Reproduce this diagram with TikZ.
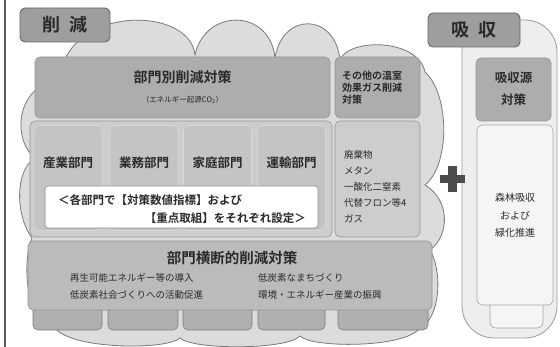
\documentclass[tikz,border=0pt]{standalone}
\usepackage{fontspec}
\setmainfont{Noto Sans CJK JP}[BoldFont={Noto Sans CJK JP Bold}]
\definecolor{cloudc}{HTML}{DCDCDC}
\definecolor{edgec}{HTML}{7A7A7A}
\definecolor{headc}{HTML}{ADADAD}
\definecolor{panelc}{HTML}{CDCDCD}
\definecolor{secc}{HTML}{C4C4C4}
\definecolor{botc}{HTML}{BBBBBB}
\definecolor{tabc}{HTML}{B0B0B0}
\definecolor{lblc}{HTML}{9E9E9E}
\definecolor{txtc}{HTML}{2A2A2A}
\definecolor{capc}{HTML}{EEEEEE}
\tikzset{
  px/.style={x=1pt,y=-1pt},
  cloudst/.style={fill=cloudc,draw=edgec,line width=0.8pt},
  boxst/.style={draw=edgec!80,line width=0.6pt,rounded corners=5pt,inner sep=0pt,outer sep=0pt},
  lblst/.style={boxst,fill=lblc,draw=black!60,line width=0.9pt,text=txtc,font=\bfseries\fontsize{18}{20}\selectfont},
  hd/.style={text=txtc,font=\bfseries\fontsize{14}{16}\selectfont,inner sep=0pt},
  sec/.style={text=txtc,font=\bfseries\fontsize{12.5}{14}\selectfont,inner sep=0pt},
  sm/.style={text=txtc,font=\fontsize{9.5}{11}\selectfont,inner sep=0pt},
}
\begin{document}
\begin{tikzpicture}[px]
\useasboundingbox (0,0) rectangle (560,347);
\fill[white] (0,0) rectangle (560,347);
\draw[black!65,line width=2pt] (5,0) -- (5,347);
% cloud
\draw[cloudst] (60,80) .. controls (65,5) and (190,5) .. (195,55)
 .. controls (205,8) and (270,8) .. (275,58)
 .. controls (282,12) and (335,12) .. (340,60)
 .. controls (348,38) and (418,38) .. (425,72)
 .. controls (450,95) and (450,165) .. (425,185)
 .. controls (450,200) and (450,235) .. (430,250)
 .. controls (442,270) and (442,318) .. (418,330)
 .. controls (400,348) and (312,348) .. (300,336)
 .. controls (288,350) and (192,350) .. (180,338)
 .. controls (168,350) and (72,350) .. (55,328)
 .. controls (25,325) and (22,260) .. (32,238)
 .. controls (15,215) and (15,170) .. (35,158)
 .. controls (12,140) and (15,85) .. (60,80) -- cycle;
% absorption capsule
\draw[fill=capc,draw=black!40,line width=0.8pt,rounded corners=32pt] (462,20) rectangle (557,338);
% top boxes
\node[boxst,fill=headc,minimum width=295pt,minimum height=61pt] (top) at (182.5,87.5) {};
\node[boxst,fill=headc,minimum width=85pt,minimum height=61pt] (other) at (377.5,87.5) {};
\node[hd] (topt) at (182.5,77) {部門別削減対策};
\node[text=txtc,font=\fontsize{7.5}{9}\selectfont,inner sep=0pt] (tops) at (182.5,100) {（エネルギー起源CO\textsubscript{2}）};
\node[sm,font=\bfseries\fontsize{10}{12}\selectfont,align=left,anchor=west] (othert) at (342,88) {その他の温室\\効果ガス削減\\対策};
% sector panel
\node[boxst,fill=panelc,minimum width=302pt,minimum height=116pt] (panel) at (181,179) {};
\node[boxst,fill=secc,draw=white!70!gray,minimum width=68pt,minimum height=105pt] (s1) at (68,178) {};
\node[boxst,fill=secc,draw=white!70!gray,minimum width=68pt,minimum height=105pt] (s2) at (144,178) {};
\node[boxst,fill=secc,draw=white!70!gray,minimum width=68pt,minimum height=105pt] (s3) at (217.5,178) {};
\node[boxst,fill=secc,draw=white!70!gray,minimum width=68pt,minimum height=105pt] (s4) at (291.5,178) {};
\node[sec] (s1t) at (68,163) {産業部門};
\node[sec] (s2t) at (144,163) {業務部門};
\node[sec] (s3t) at (217.5,163) {家庭部門};
\node[sec] (s4t) at (291.5,163) {運輸部門};
\node[boxst,fill=white,draw=black!45,rounded corners=3pt,minimum width=273pt,minimum height=42pt] (wb) at (181.5,207) {};
\node[sec,font=\bfseries\fontsize{11.5}{13}\selectfont,anchor=west] (w1) at (58,200) {＜各部門で【対策数値指標】および};
\node[sec,font=\bfseries\fontsize{11.5}{13}\selectfont,anchor=east] (w2) at (306,218) {【重点取組】をそれぞれ設定＞};
% other gases panel
\node[boxst,fill=panelc,minimum width=85pt,minimum height=116pt] (gas) at (377.5,179) {};
\node[sm,align=left,anchor=north west,font=\fontsize{9.5}{16.2}\selectfont] (gast) at (344,150) {廃棄物\\メタン\\一酸化二窒素\\代替フロン等4\\ガス};
% bottom tabs
\foreach \a/\b [count=\i] in {33/102,108/178,183/252,258/325,338/428}{
  \draw[fill=tabc,draw=edgec,line width=0.6pt,rounded corners=5pt] (\a,300) rectangle (\b,330);
}
\node[boxst,fill=botc,minimum width=404pt,minimum height=69pt] (bot) at (230,275.5) {};
\node[hd,font=\bfseries\fontsize{14.5}{16}\selectfont] (bott) at (232,258) {部門横断的削減対策};
\node[sm,anchor=west] (b1) at (70,278) {再生可能エネルギー等の導入};
\node[sm,anchor=west] (b2) at (70,295) {低炭素社会づくりへの活動促進};
\node[sm,anchor=west] (b3) at (258,278) {低炭素なまちづくり};
\node[sm,anchor=west] (b4) at (258,295) {環境・エネルギー産業の振興};
% absorption boxes
\node[boxst,fill=headc,minimum width=75pt,minimum height=63pt] (abs) at (513.5,89.5) {};
\node[sec,align=center,font=\bfseries\fontsize{12.5}{22}\selectfont] (abst) at (513.5,89) {吸収源\\対策};
\draw[fill=white!92!gray,draw=black!35,line width=0.6pt,rounded corners=6pt] (490,290) rectangle (543,328);
\node[boxst,fill=white!92!gray,draw=black!35,minimum width=76pt,minimum height=180pt] (absl) at (515,215) {};
\node[sm,align=center,font=\fontsize{10}{17.5}\selectfont] (abslt) at (515,215.5) {森林吸収\\および\\緑化推進};
% plus
\fill[black!70] (448,166) rectangle (457,192);
\fill[black!70] (440,175) rectangle (465,183);
\coordinate (plusc) at (452.5,179);
% labels
\node[lblst,minimum width=90pt,minimum height=34pt] (l1) at (65,25) {削\hspace{10pt}減};
\node[lblst,minimum width=92pt,minimum height=34pt] (l2) at (474,30) {吸\hspace{10pt}収};
\end{tikzpicture}
\end{document}
